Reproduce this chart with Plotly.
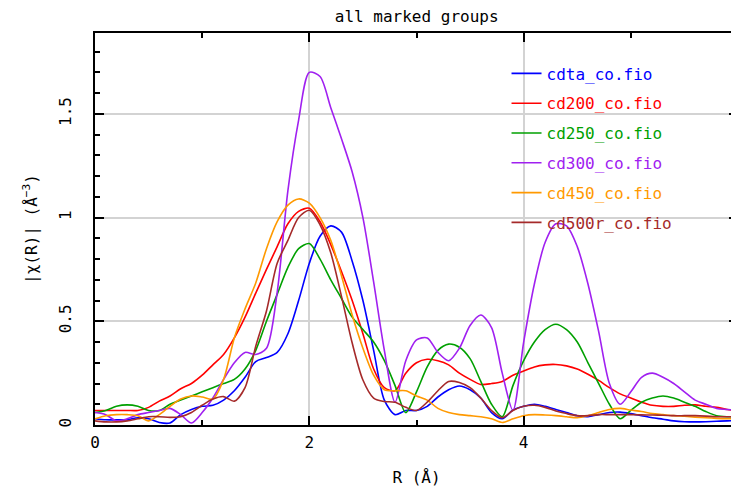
import plotly.graph_objects as go

r = [round(i * 0.1, 1) for i in range(61)]

cdta = [0.03, 0.025, 0.025, 0.025, 0.035, 0.03, 0.012, 0.01, 0.05, 0.075,
        0.09, 0.095, 0.12, 0.165, 0.23, 0.306, 0.325, 0.35, 0.44, 0.60,
        0.78, 0.91, 0.96, 0.93, 0.79, 0.60, 0.36, 0.12, 0.05, 0.07,
        0.07, 0.09, 0.135, 0.17, 0.188, 0.17, 0.13, 0.06, 0.03, 0.072,
        0.09, 0.10, 0.09, 0.075, 0.06, 0.045, 0.04, 0.05, 0.06, 0.062,
        0.055, 0.045, 0.035, 0.028, 0.02, 0.016, 0.015, 0.016, 0.018, 0.02,
        0.02]
cd200 = [0.07, 0.07, 0.07, 0.07, 0.07, 0.085, 0.115, 0.14, 0.175, 0.20,
         0.24, 0.29, 0.34, 0.42, 0.52, 0.636, 0.75, 0.86, 0.97, 1.03,
         1.045, 0.98, 0.87, 0.74, 0.60, 0.44, 0.27, 0.18, 0.165, 0.25,
         0.30, 0.317, 0.31, 0.29, 0.25, 0.22, 0.195, 0.20, 0.21, 0.24,
         0.26, 0.28, 0.29, 0.292, 0.285, 0.27, 0.245, 0.215, 0.18, 0.15,
         0.13, 0.11, 0.095, 0.09, 0.09, 0.095, 0.097, 0.09, 0.085, 0.075,
         0.07]
cd250 = [0.06, 0.07, 0.09, 0.097, 0.09, 0.07, 0.07, 0.10, 0.12, 0.14,
         0.16, 0.18, 0.20, 0.22, 0.27, 0.36, 0.50, 0.63, 0.76, 0.85,
         0.875, 0.80, 0.70, 0.61, 0.52, 0.46, 0.40, 0.31, 0.19, 0.06,
         0.16, 0.28, 0.36, 0.39, 0.375, 0.32, 0.21, 0.10, 0.04, 0.19,
         0.31, 0.40, 0.46, 0.486, 0.46, 0.40, 0.30, 0.20, 0.10, 0.03,
         0.07, 0.11, 0.13, 0.14, 0.13, 0.11, 0.09, 0.065, 0.045, 0.04,
         0.04]
cd300 = [0.06, 0.05, 0.02, 0.03, 0.05, 0.06, 0.07, 0.08, 0.05, 0.01,
         0.06, 0.13, 0.22, 0.30, 0.35, 0.34, 0.37, 0.64, 1.13, 1.47,
         1.70, 1.68, 1.53, 1.38, 1.22, 1.00, 0.69, 0.36, 0.11, 0.31,
         0.41, 0.42, 0.35, 0.31, 0.37, 0.48, 0.53, 0.47, 0.25, 0.07,
         0.40, 0.68, 0.88, 0.97, 0.96, 0.86, 0.68, 0.45, 0.20, 0.10,
         0.16, 0.23, 0.25, 0.23, 0.20, 0.16, 0.12, 0.10, 0.08, 0.075,
         0.07]
cd450 = [0.03, 0.045, 0.05, 0.05, 0.045, 0.02, 0.05, 0.09, 0.125, 0.14,
         0.135, 0.125, 0.22, 0.42, 0.56, 0.685, 0.85, 0.98, 1.06, 1.09,
         1.07, 1.00, 0.89, 0.72, 0.53, 0.37, 0.24, 0.17, 0.165, 0.165,
         0.14, 0.12, 0.08, 0.06, 0.05, 0.045, 0.04, 0.03, 0.012, 0.03,
         0.045, 0.05, 0.048, 0.045, 0.04, 0.035, 0.045, 0.06, 0.075, 0.08,
         0.072, 0.065, 0.055, 0.05, 0.045, 0.042, 0.038, 0.035, 0.032, 0.03,
         0.03]
cd500r = [0.02, 0.015, 0.015, 0.02, 0.03, 0.04, 0.04, 0.037, 0.04, 0.06,
          0.095, 0.125, 0.137, 0.115, 0.18, 0.38, 0.55, 0.78, 0.89, 1.00,
          1.035, 0.965, 0.83, 0.62, 0.395, 0.217, 0.13, 0.113, 0.11, 0.085,
          0.07, 0.11, 0.165, 0.21, 0.205, 0.18, 0.13, 0.07, 0.035, 0.07,
          0.09, 0.095, 0.085, 0.068, 0.055, 0.045, 0.045, 0.05, 0.05, 0.05,
          0.05, 0.049, 0.048, 0.047, 0.045, 0.045, 0.045, 0.043, 0.04, 0.04,
          0.04]

names = ["cdta_co.fio", "cd200_co.fio", "cd250_co.fio", "cd300_co.fio",
         "cd450_co.fio", "cd500r_co.fio"]
series = [cdta, cd200, cd250, cd300, cd450, cd500r]
colors = ["#0000ff", "#ff0000", "#00a000", "#a020f0", "#ff9900", "#a52a2a"]

FONT = "DejaVu Sans Mono"

fig = go.Figure()
for i, (nm, ys, c) in enumerate(zip(names, series, colors)):
    fig.add_trace(go.Scatter(
        x=r, y=ys, mode="lines", line=dict(color=c, width=1.6, shape="spline", smoothing=0.8),
        name=f"<span style='color:{c}'>{nm}</span>", legendgroup=f"g{i}",
    ))

fig.update_layout(
    width=739, height=492,
    margin=dict(l=87, r=9, t=25, b=75, autoexpand=False),
    paper_bgcolor="white", plot_bgcolor="white",
    font=dict(family=FONT, size=16, color="black"),
    title=dict(text="all marked groups", x=0.553, xanchor="center",
               yref="container", y=1 - 8 / 492, yanchor="middle",
               font=dict(family=FONT, size=16, color="black")),
    legend=dict(x=0.64, y=0.94, xanchor="left", yanchor="top", bgcolor="rgba(0,0,0,0)",
                font=dict(family=FONT, size=16), traceorder="grouped", tracegroupgap=6,
                itemwidth=30),
    showlegend=True,
)
fig.update_xaxes(
    range=[0, 6], tickvals=[0, 2, 4, 6], ticks="inside", ticklen=9, tickwidth=1.5, tickcolor="black",
    minor=dict(dtick=1, ticks="inside", ticklen=5, tickcolor="black", showgrid=False),
    showline=True, linecolor="black", linewidth=2, mirror="ticks", automargin=False,
    showgrid=True, gridcolor="#d3d3d3", gridwidth=1.5, zeroline=False,
    tickfont=dict(family=FONT, size=16), ticklabelstandoff=2, ticklabeloverflow="allow",
    title=dict(text="R (Å)", font=dict(family=FONT, size=16), standoff=21),
)
fig.update_yaxes(
    range=[0, 1.89], tickvals=[0, 0.5, 1, 1.5], ticktext=["0", "0.5", "1", "1.5"],
    ticks="inside", ticklen=9, tickwidth=1.5, tickcolor="black", tickangle=-90,
    minor=dict(dtick=0.1, ticks="inside", ticklen=5, tickcolor="black", showgrid=False),
    showline=True, linecolor="black", linewidth=2, mirror="ticks", automargin=False,
    showgrid=True, gridcolor="#d3d3d3", gridwidth=1.5, zeroline=False,
    tickfont=dict(family=FONT, size=16), ticklabelstandoff=16, ticklabeloverflow="allow",
    title=dict(text="|χ(R)| (Å<sup>−3</sup>)", font=dict(family=FONT, size=16), standoff=14),
)

fig.write_html("out.html")
